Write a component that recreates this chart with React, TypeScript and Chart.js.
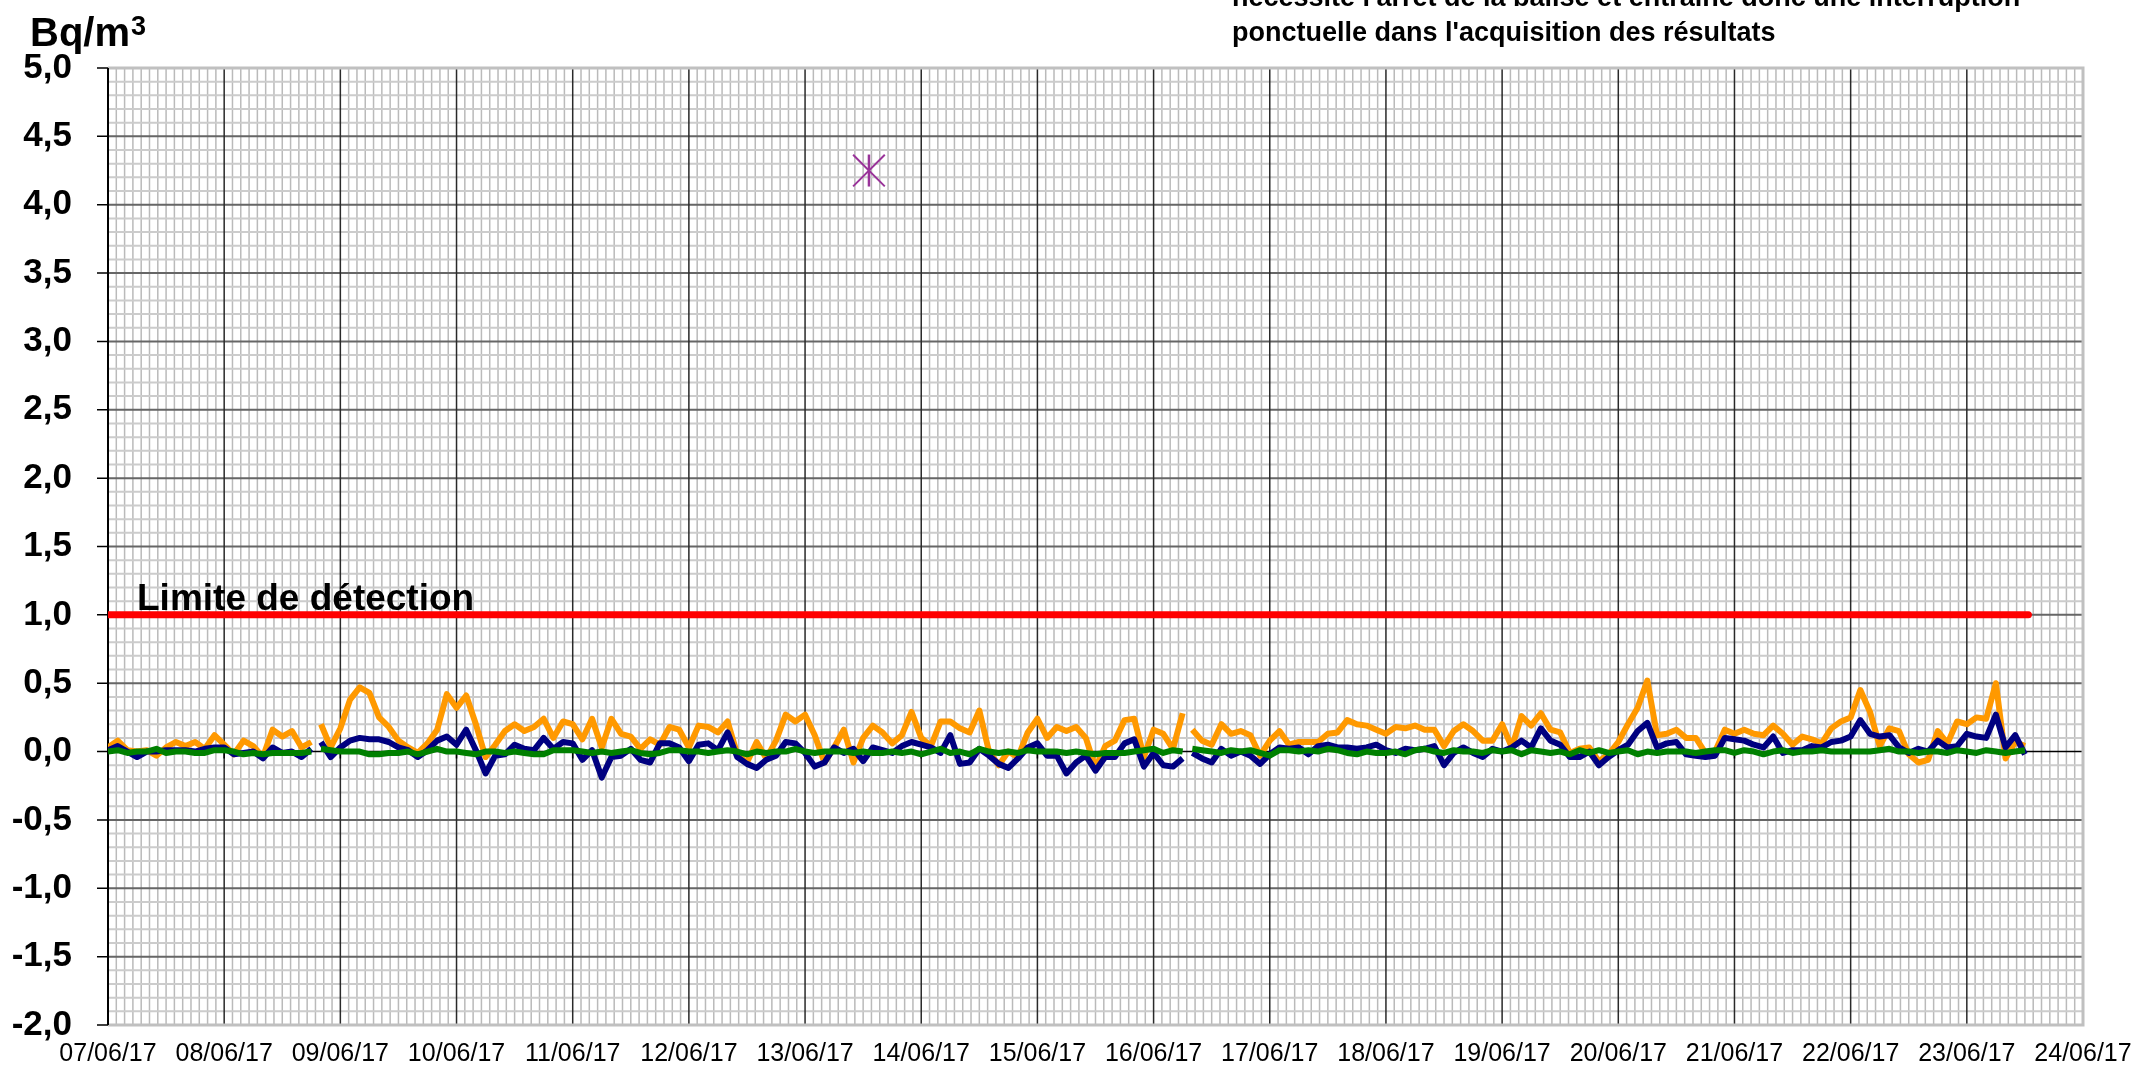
import { useEffect, useRef } from 'react';
import { Chart, registerables } from 'chart.js';

Chart.register(...registerables);

// ---------- data ----------
const dayLabels = [
  '07/06/17', '08/06/17', '09/06/17', '10/06/17', '11/06/17', '12/06/17',
  '13/06/17', '14/06/17', '15/06/17', '16/06/17', '17/06/17', '18/06/17',
  '19/06/17', '20/06/17', '21/06/17', '22/06/17', '23/06/17', '24/06/17',
];
const pointsPerDay = 12; // one value every 2 hours from 07/06/17 00:00
const gapDays = [1.79, 9.29]; // interruptions in the acquisition

const orangeValues = [
  0.03, 0.08, 0.01, 0.00, 0.01, -0.03, 0.03, 0.07, 0.04, 0.07,
  0.02, 0.12, 0.05, -0.02, 0.08, 0.04, -0.04, 0.16, 0.11, 0.15,
  0.03, 0.07, 0.20, 0.03, 0.17, 0.38, 0.47, 0.43, 0.25, 0.18,
  0.08, 0.03, -0.01, 0.06, 0.16, 0.42, 0.32, 0.41, 0.20, -0.04,
  0.05, 0.15, 0.20, 0.15, 0.18, 0.24, 0.10, 0.22, 0.20, 0.09,
  0.24, 0.03, 0.24, 0.13, 0.11, 0.02, 0.09, 0.05, 0.18, 0.16,
  0.03, 0.19, 0.18, 0.14, 0.22, -0.02, -0.08, 0.07, -0.05, 0.08,
  0.27, 0.22, 0.27, 0.12, -0.08, 0.03, 0.16, -0.08, 0.10, 0.19,
  0.14, 0.06, 0.12, 0.29, 0.10, 0.04, 0.22, 0.22, 0.17, 0.14,
  0.30, 0.00, -0.10, 0.00, -0.04, 0.14, 0.24, 0.10, 0.18, 0.15,
  0.18, 0.10, -0.12, 0.04, 0.08, 0.23, 0.24, -0.04, 0.16, 0.13,
  0.02, 0.28, 0.16, 0.08, 0.05, 0.20, 0.13, 0.15, 0.12, -0.03,
  0.08, 0.15, 0.05, 0.07, 0.07, 0.07, 0.13, 0.14, 0.23, 0.20,
  0.19, 0.16, 0.13, 0.18, 0.17, 0.19, 0.16, 0.16, 0.04, 0.15,
  0.20, 0.15, 0.08, 0.08, 0.20, 0.03, 0.26, 0.19, 0.28, 0.16,
  0.14, -0.01, 0.02, 0.03, -0.07, -0.02, 0.07, 0.20, 0.32, 0.52,
  0.12, 0.13, 0.16, 0.10, 0.10, -0.01, 0.00, 0.16, 0.13, 0.16,
  0.13, 0.12, 0.19, 0.13, 0.05, 0.11, 0.09, 0.06, 0.17, 0.22,
  0.25, 0.45, 0.29, 0.04, 0.17, 0.15, -0.02, -0.08, -0.06, 0.15,
  0.06, 0.22, 0.20, 0.25, 0.24, 0.50, -0.05, 0.07, 0.04,
];

const navyValues = [
  0.01, 0.04, 0.00, -0.04, 0.00, 0.00, 0.01, 0.01, 0.01, 0.00,
  0.02, 0.03, 0.03, -0.02, -0.01, 0.00, -0.05, 0.03, -0.01, 0.00,
  -0.04, 0.02, 0.07, -0.04, 0.03, 0.08, 0.10, 0.09, 0.09, 0.07,
  0.03, 0.01, -0.04, 0.01, 0.08, 0.11, 0.05, 0.16, 0.01, -0.16,
  -0.03, -0.02, 0.05, 0.02, 0.01, 0.10, 0.02, 0.07, 0.06, -0.06,
  0.01, -0.19, -0.04, -0.03, 0.02, -0.06, -0.08, 0.06, 0.06, 0.03,
  -0.07, 0.05, 0.06, 0.01, 0.14, -0.04, -0.09, -0.12, -0.06, -0.03,
  0.07, 0.06, -0.01, -0.11, -0.08, 0.03, -0.01, 0.02, -0.07, 0.03,
  0.01, -0.01, 0.04, 0.07, 0.05, 0.03, -0.01, 0.12, -0.09, -0.08,
  0.02, -0.03, -0.09, -0.12, -0.05, 0.03, 0.06, -0.03, -0.03, -0.16,
  -0.08, -0.03, -0.14, -0.04, -0.04, 0.06, 0.09, -0.11, -0.01, -0.10,
  -0.11, -0.05, -0.01, -0.05, -0.08, 0.02, -0.03, 0.00, -0.03, -0.09,
  -0.02, 0.03, 0.02, 0.03, -0.02, 0.04, 0.05, 0.03, 0.03, 0.02,
  0.03, 0.05, 0.01, -0.01, 0.02, 0.01, 0.02, 0.04, -0.10, -0.01,
  0.03, -0.01, -0.04, 0.02, 0.00, 0.03, 0.08, 0.03, 0.17, 0.08,
  0.05, -0.04, -0.04, 0.00, -0.10, -0.04, 0.01, 0.05, 0.15, 0.21,
  0.03, 0.06, 0.07, -0.02, -0.03, -0.04, -0.03, 0.10, 0.09, 0.08,
  0.05, 0.03, 0.11, -0.01, 0.01, 0.01, 0.04, 0.03, 0.07, 0.08,
  0.11, 0.23, 0.13, 0.11, 0.12, 0.03, -0.01, 0.02, 0.00, 0.08,
  0.03, 0.04, 0.13, 0.11, 0.10, 0.27, 0.03, 0.12, -0.02,
];

const greenValues = [
  0.00, 0.01, -0.01, 0.00, 0.00, 0.02, -0.01, 0.00, 0.00, -0.01,
  -0.01, 0.01, 0.01, 0.00, -0.02, -0.01, -0.02, -0.01, -0.01, -0.01,
  -0.01, 0.00, 0.02, 0.01, 0.00, 0.00, 0.00, -0.02, -0.02, -0.01,
  -0.01, 0.00, -0.02, 0.00, 0.02, 0.00, 0.00, -0.01, -0.02, 0.00,
  0.00, -0.01, 0.00, -0.01, -0.02, -0.02, 0.01, 0.01, 0.01, 0.00,
  -0.01, 0.00, -0.01, 0.00, 0.01, -0.01, -0.02, -0.01, 0.01, 0.01,
  0.00, 0.00, -0.01, 0.00, 0.01, 0.00, -0.02, 0.00, -0.01, 0.00,
  0.00, 0.02, 0.00, -0.01, 0.00, 0.00, 0.00, -0.01, 0.00, -0.01,
  -0.01, 0.00, -0.01, 0.00, -0.02, 0.00, 0.02, -0.01, 0.00, -0.02,
  0.02, 0.00, -0.01, 0.00, -0.01, 0.01, 0.00, 0.00, 0.00, -0.01,
  0.00, -0.01, -0.02, -0.01, -0.01, -0.01, 0.00, 0.01, 0.02, -0.01,
  0.01, 0.00, 0.02, 0.01, 0.00, -0.01, 0.01, 0.00, 0.01, -0.01,
  -0.03, 0.01, 0.01, 0.00, 0.01, 0.00, 0.02, 0.01, -0.01, -0.02,
  0.00, -0.01, -0.01, 0.00, -0.02, 0.01, 0.02, 0.00, -0.01, 0.01,
  0.00, 0.00, -0.01, 0.01, 0.00, 0.01, -0.02, 0.01, 0.00, -0.01,
  0.00, -0.02, 0.01, -0.01, 0.01, -0.01, 0.00, 0.01, -0.02, 0.00,
  -0.01, 0.00, 0.00, 0.00, -0.01, 0.00, 0.01, 0.01, -0.01, 0.01,
  0.00, -0.02, 0.00, 0.01, -0.01, 0.00, 0.00, 0.01, 0.00, 0.00,
  0.00, 0.00, 0.00, 0.01, 0.02, 0.00, 0.00, -0.01, 0.00, 0.00,
  -0.01, 0.01, 0.00, -0.01, 0.01, 0.00, -0.01, 0.00, 0.01,
];

const limitValue = 1.0;
const limitDays = [0, 16.53];
const starDay = 6.55;
const starValue = 4.25;

const yMin = -2;
const yMax = 5;
const yMinorStep = 0.1;
const yMajorStep = 0.5;
const minorPerDay = 14;

const unitText = 'Bq/m';
const unitSup = '3';
const limitLabel = 'Limite de détection';
const noteLines = [
  "nécessite l'arrêt de la balise et entraîne donc une interruption",
  "ponctuelle dans l'acquisition des résultats",
];

const FONT = '"Liberation Sans", Arial, Helvetica, sans-serif';

function toPoints(values: number[]) {
  const pts: { x: number; y: number | null }[] = [];
  values.forEach((v, i) => {
    const x = i / pointsPerDay;
    pts.push({ x, y: v });
    const next = (i + 1) / pointsPerDay;
    gapDays.forEach((g) => {
      if (g > x && g < next) pts.push({ x: g, y: null });
    });
  });
  return pts;
}

const isMultiple = (v: number, step: number) => Math.abs(v / step - Math.round(v / step)) < 1e-6;

const paperGrid = {
  id: 'paperGrid',
  beforeDatasetsDraw(chart: any) {
    const { ctx, chartArea: a, scales } = chart;
    const x = scales.x;
    const y = scales.y;
    const xs: number[] = x.ticks.map((t: any) => t.value);
    const ys: number[] = y.ticks.map((t: any) => t.value);
    ctx.save();
    // minor vertical
    ctx.lineWidth = 1.5;
    ctx.strokeStyle = '#bababa';
    ctx.beginPath();
    xs.forEach((v) => {
      if (isMultiple(v, 1)) return;
      const px = x.getPixelForValue(v);
      ctx.moveTo(px, a.top);
      ctx.lineTo(px, a.bottom);
    });
    ctx.stroke();
    // minor horizontal
    ctx.lineWidth = 2;
    ctx.strokeStyle = '#cccccc';
    ctx.beginPath();
    ys.forEach((v) => {
      if (isMultiple(v, yMajorStep)) return;
      const py = y.getPixelForValue(v);
      ctx.moveTo(a.left, py);
      ctx.lineTo(a.right, py);
    });
    ctx.stroke();
    // major horizontal
    ctx.lineWidth = 2;
    ctx.strokeStyle = '#666666';
    ctx.beginPath();
    ys.forEach((v) => {
      if (!isMultiple(v, yMajorStep) || Math.abs(v) < 1e-6) return;
      const py = y.getPixelForValue(v);
      ctx.moveTo(a.left, py);
      ctx.lineTo(a.right, py);
    });
    ctx.stroke();
    // major vertical (days)
    ctx.lineWidth = 1.5;
    ctx.strokeStyle = '#2a2a2a';
    ctx.beginPath();
    xs.forEach((v) => {
      if (!isMultiple(v, 1)) return;
      const px = x.getPixelForValue(v);
      ctx.moveTo(px, a.top);
      ctx.lineTo(px, a.bottom);
    });
    ctx.stroke();
    // y tick marks
    ctx.lineWidth = 1.5;
    ctx.strokeStyle = '#000000';
    ctx.beginPath();
    ys.forEach((v) => {
      if (!isMultiple(v, yMajorStep)) return;
      const py = y.getPixelForValue(v);
      ctx.moveTo(a.left - 11, py);
      ctx.lineTo(a.left, py);
    });
    ctx.stroke();
    // zero line (x axis) with small ticks
    const p0 = y.getPixelForValue(0);
    ctx.lineWidth = 1.5;
    ctx.strokeStyle = '#000000';
    ctx.beginPath();
    ctx.moveTo(a.left, p0);
    ctx.lineTo(a.right, p0);
    xs.forEach((v) => {
      if (!isMultiple(v, 1)) return;
      const px = x.getPixelForValue(v);
      ctx.moveTo(px, p0);
      ctx.lineTo(px, p0 + 7);
    });
    ctx.stroke();
    // plot border
    ctx.lineWidth = 3;
    ctx.strokeStyle = '#c0c0c0';
    ctx.beginPath();
    ctx.moveTo(a.left, a.top);
    ctx.lineTo(a.right, a.top);
    ctx.lineTo(a.right, a.bottom);
    ctx.lineTo(a.left, a.bottom);
    ctx.stroke();
    ctx.lineWidth = 2;
    ctx.strokeStyle = '#000000';
    ctx.beginPath();
    ctx.moveTo(a.left, a.top);
    ctx.lineTo(a.left, a.bottom);
    ctx.stroke();
    ctx.restore();
  },
};

const texts = {
  id: 'texts',
  afterDraw(chart: any) {
    const { ctx, chartArea: a, scales } = chart;
    ctx.save();
    ctx.fillStyle = '#000';
    ctx.textAlign = 'left';
    ctx.textBaseline = 'alphabetic';
    ctx.font = `bold 40px ${FONT}`;
    ctx.fillText(unitText, 30, 46);
    const w = ctx.measureText(unitText).width;
    ctx.font = `bold 27px ${FONT}`;
    ctx.fillText(unitSup, 30 + w + 1, 35);
    ctx.font = `bold 27px ${FONT}`;
    ctx.fillText(noteLines[0], 1232, 6);
    ctx.fillText(noteLines[1], 1232, 41);
    ctx.font = `bold 37px ${FONT}`;
    ctx.fillText(limitLabel, a.left + 29, scales.y.getPixelForValue(limitValue) - 5);
    ctx.restore();
  },
};

export default function App() {
  const ref = useRef<HTMLCanvasElement | null>(null);
  useEffect(() => {
    document.body.style.margin = '0';
    document.body.style.overflow = 'hidden';
    const canvas = ref.current!;
    const chart = new Chart(canvas, {
      type: 'line',
      data: {
        datasets: [
          {
            label: 'star-x',
            data: [{ x: starDay, y: starValue }],
            showLine: false,
            pointStyle: 'crossRot',
            pointRadius: 22.4,
            pointBorderWidth: 2,
            pointBorderColor: '#993399',
            borderColor: '#993399',
          },
          {
            label: 'star-v',
            data: [{ x: starDay, y: starValue }],
            showLine: false,
            pointStyle: 'line',
            pointRotation: 90,
            pointRadius: 16,
            pointBorderWidth: 2.5,
            pointBorderColor: '#993399',
            borderColor: '#993399',
          },
          {
            label: 'limite',
            data: limitDays.map((d) => ({ x: d, y: limitValue })),
            borderColor: '#ff0000',
            borderWidth: 7,
            borderCapStyle: 'round',
            pointRadius: 0,
          },
          {
            label: 'vert',
            data: toPoints(greenValues),
            borderColor: '#008000',
            borderWidth: 6,
            pointRadius: 0,
            borderJoinStyle: 'round',
            spanGaps: false,
          },
          {
            label: 'bleu',
            data: toPoints(navyValues),
            borderColor: '#000080',
            borderWidth: 6,
            pointRadius: 0,
            borderJoinStyle: 'round',
            spanGaps: false,
          },
          {
            label: 'orange',
            data: toPoints(orangeValues),
            borderColor: '#ff9900',
            borderWidth: 6,
            pointRadius: 0,
            borderJoinStyle: 'round',
            spanGaps: false,
          },
        ],
      } as any,
      options: {
        animation: false,
        responsive: false,
        devicePixelRatio: 1,
        layout: { padding: { left: 0, top: 68, right: 51, bottom: 0 } },
        plugins: { legend: { display: false }, tooltip: { enabled: false }, title: { display: false } },
        scales: {
          x: {
            type: 'linear',
            min: 0,
            max: dayLabels.length - 1,
            grid: { display: false, drawTicks: false },
            border: { display: false },
            afterBuildTicks: (scale: any) => {
              const t: { value: number }[] = [];
              for (let k = 0; k <= (dayLabels.length - 1) * minorPerDay; k++) t.push({ value: k / minorPerDay });
              scale.ticks = t;
            },
            afterFit: (scale: any) => {
              scale.height = 40;
              scale.paddingLeft = 0;
              scale.paddingRight = 0;
            },
            ticks: {
              autoSkip: false,
              maxRotation: 0,
              minRotation: 0,
              padding: 14,
              color: '#000',
              font: { family: FONT, size: 25 },
              callback: (value: any) => {
                const k = Math.round(Number(value) * minorPerDay);
                if (k % minorPerDay !== 0) return '';
                return dayLabels[k / minorPerDay] ?? '';
              },
            },
          },
          y: {
            type: 'linear',
            min: yMin,
            max: yMax,
            grid: { display: false, drawTicks: false },
            border: { display: false },
            afterBuildTicks: (scale: any) => {
              const t: { value: number }[] = [];
              const n = Math.round((yMax - yMin) / yMinorStep);
              for (let k = 0; k <= n; k++) t.push({ value: Math.round((yMin + k * yMinorStep) * 10) / 10 });
              scale.ticks = t;
            },
            afterFit: (scale: any) => {
              scale.width = 108;
              scale.paddingTop = 0;
              scale.paddingBottom = 0;
            },
            ticks: {
              autoSkip: false,
              padding: 36,
              color: '#000',
              font: { family: FONT, size: 35, weight: 'bold' },
              callback: (value: any) => {
                const v = Number(value);
                if (!isMultiple(v, yMajorStep)) return '';
                return v.toFixed(1).replace('.', ',');
              },
            },
          },
        },
      } as any,
      plugins: [paperGrid, texts],
    });
    return () => chart.destroy();
  }, []);
  return (
    <div style={{ width: 2134, height: 1065, background: '#fff' }}>
      <canvas ref={ref} width={2134} height={1065} style={{ display: 'block' }} />
    </div>
  );
}
